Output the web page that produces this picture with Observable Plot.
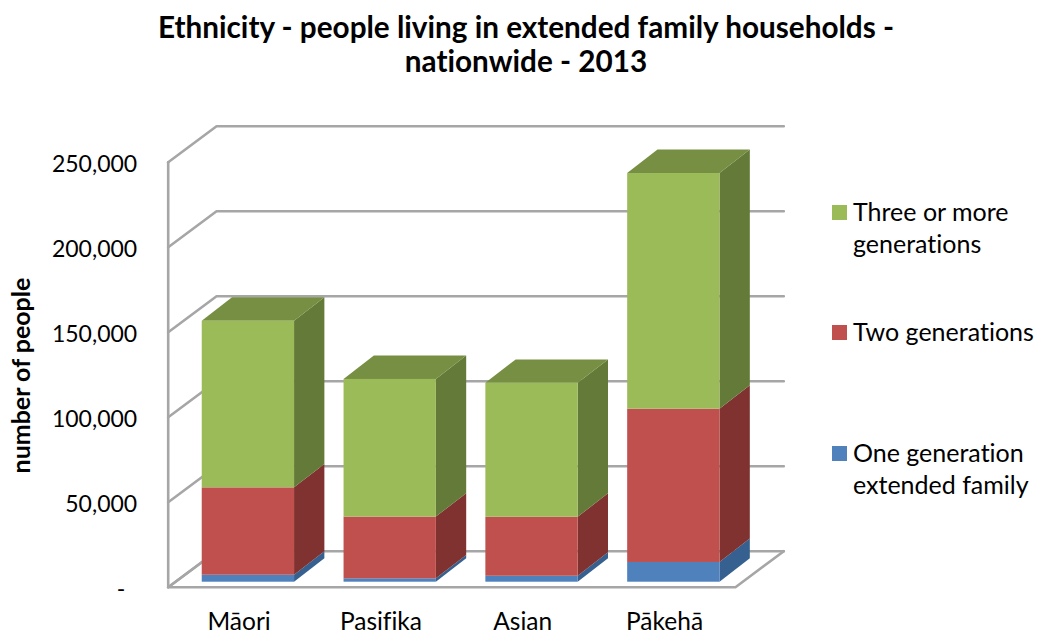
<!DOCTYPE html>
<html>
<head>
<meta charset="utf-8">
<script src="https://cdn.jsdelivr.net/npm/d3@7"></script>
<script src="https://cdn.jsdelivr.net/npm/@observablehq/plot@0.6"></script>
<style>
  html, body { margin: 0; padding: 0; background: #fff; }
  #page { position: relative; width: 1041px; height: 635px; overflow: hidden; font-family: Lato, sans-serif; color: #000; font-variant-ligatures: none; }
  #title { box-sizing: border-box; height: 85px; padding: 10px 0 0 11px; text-align: center; font-weight: 700; font-size: 29.7px; line-height: 34px; }
  #chart svg { display: block; font-variant-ligatures: none; }
  .legend-item { position: absolute; left: 832px; font-size: 25px; line-height: 32px; }
  .legend-item i { position: absolute; left: 0; top: 10px; width: 15px; height: 15px; }
  .legend-item span { display: block; margin-left: 21px; white-space: nowrap; }
</style>
</head>
<body>
<div id="page">
  <div id="title">Ethnicity - people living in extended family households -<br>nationwide - 2013</div>
  <div id="chart"></div>
</div>
<script>
const categories = ["Māori", "Pasifika", "Asian", "Pākehā"];
const oneGeneration = [4100, 2000, 3500, 11600];
const twoGenerations = [51400, 36300, 34700, 90200];
const threeOrMore = [98000, 81000, 78800, 138600];
const yTicks = [0, 50000, 100000, 150000, 200000, 250000];
const seriesNames = ["Three or more\ngenerations", "Two generations", "One generation\nextended family"];

const frontColors = {one: "#4F81BD", two: "#C0504D", three: "#9BBB59"};
const sideColors = {one: "#35608F", two: "#7F3230", three: "#647A38"};
const topColor = "#768F42";
const gridColor = "#A6A6A6";

// Pseudo-3D projection, in scale units (categories along x, people along y)
const wallDx = 0.3409, wallDy = 21176;     // depth of the floor and walls
const barDx = 0.2138, barDy = 13765;       // depth of each bar
const barStart = 0.24, barWidth = 0.651;   // bar front face within its category
const barLift = 2941;                      // bars stand a little back from the front edge

const segments = [];
categories.forEach((c, i) => {
  let base = 0;
  [["one", oneGeneration], ["two", twoGenerations], ["three", threeOrMore]].forEach(([key, values]) => {
    segments.push({c, i, key, y1: base + barLift, y2: base + values[i] + barLift,
                   x1: i + barStart, x2: i + barStart + barWidth});
    base += values[i];
  });
});

const sidePoints = segments.flatMap(s => [
  {id: s.c + s.key, x: s.x2, y1: s.y1, y2: s.y2, fill: sideColors[s.key]},
  {id: s.c + s.key, x: s.x2 + barDx, y1: s.y1 + barDy, y2: s.y2 + barDy, fill: sideColors[s.key]}
]);
const topPoints = segments.filter(s => s.key === "three").flatMap(s => [
  {id: s.c, y: s.y2, x1: s.x1, x2: s.x2},
  {id: s.c, y: s.y2 + barDy, x1: s.x1 + barDx, x2: s.x2 + barDx}
]);

const n = categories.length;
const gridPoints = yTicks.flatMap(v => [
  {id: v, x: 0, y: v},
  {id: v, x: wallDx, y: v + wallDy},
  {id: v, x: n + wallDx, y: v + wallDy}
]);
const floorPoints = [
  {x: wallDx, y: wallDy}, {x: 0, y: 0}, {x: n, y: 0}, {x: n + wallDx, y: wallDy}
];
const wallPoints = [{x: 0, y: 0}, {x: 0, y: 250000}];

const fontFamily = "Lato, sans-serif";
const chart = Plot.plot({
  width: 1041,
  height: 550,
  marginLeft: 167.7,
  marginRight: 257.7,
  marginTop: 40.7,
  marginBottom: 48.3,
  style: {fontFamily, background: "#fff", color: "#000"},
  x: {domain: [0, n + wallDx], axis: null},
  y: {domain: [0, 250000 + wallDy], axis: null},
  marks: [
    Plot.line(gridPoints, {x: "x", y: "y", z: "id", stroke: gridColor, strokeWidth: 2.6, strokeLinejoin: "round"}),
    Plot.line(floorPoints, {x: "x", y: "y", stroke: gridColor, strokeWidth: 2.6, strokeLinejoin: "round"}),
    Plot.line(wallPoints, {x: "x", y: "y", stroke: gridColor, strokeWidth: 2.6}),
    Plot.areaY(sidePoints, {x: "x", y1: "y1", y2: "y2", z: "id", fill: "fill"}),
    Plot.areaX(topPoints, {y: "y", x1: "x1", x2: "x2", z: "id", fill: topColor}),
    Plot.rect(segments, {x1: "x1", x2: "x2", y1: "y1", y2: "y2", fill: d => frontColors[d.key], inset: 0}),
    Plot.axisY({
      ticks: yTicks, tickSize: 0, tickPadding: 31, label: null,
      tickFormat: d => d === 0 ? "-\u00a0\u00a0" : d3.format(",")(d),
      fontSize: 23, dy: 2.5, fill: "#000"
    }),
    Plot.text(categories, {
      x: (d, i) => i + 0.5, y: () => 0, text: d => d, dy: 35,
      fontSize: 24.5, fill: "#000"
    }),
    Plot.text(["number of people"], {
      frameAnchor: "left", y: () => 124500, text: d => d, rotate: -90, dx: -146,
      textAnchor: "middle", fontSize: 25, fontWeight: 700, fill: "#000"
    })
  ]
});
document.getElementById("chart").appendChild(chart);

// Legend, added beside the plot
const page = document.getElementById("page");
const legendColors = [frontColors.three, frontColors.two, frontColors.one];
const legendTops = [195, 315, 436];
seriesNames.forEach((name, i) => {
  const item = document.createElement("div");
  item.className = "legend-item";
  item.style.top = legendTops[i] + "px";
  const swatch = document.createElement("i");
  swatch.style.background = legendColors[i];
  item.appendChild(swatch);
  const label = document.createElement("span");
  label.innerHTML = name.replace("\n", "<br>");
  item.appendChild(label);
  page.appendChild(item);
});
</script>
</body>
</html>
